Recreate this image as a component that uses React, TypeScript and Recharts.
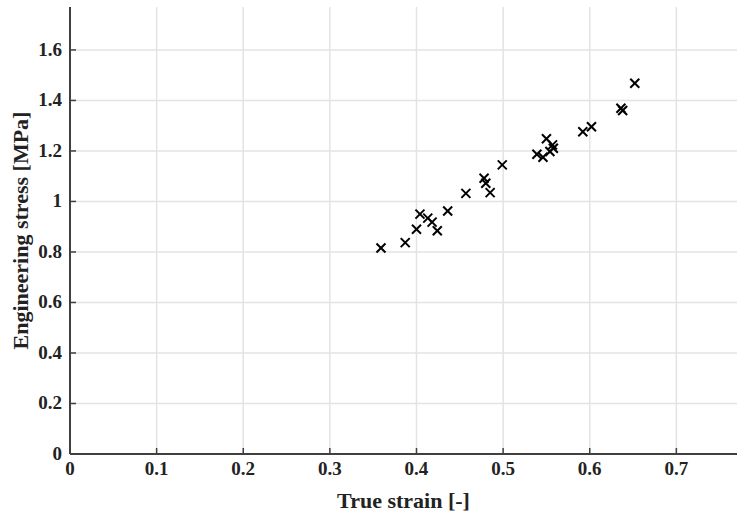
import { ScatterChart, Scatter, XAxis, YAxis, CartesianGrid, Label } from 'recharts';

// true strain [-] and engineering stress [MPa]
const strain = [
  0.359, 0.387, 0.400, 0.404, 0.413, 0.418, 0.424, 0.436, 0.457, 0.478, 0.480, 0.485,
  0.499, 0.539, 0.546, 0.550, 0.554, 0.557, 0.558, 0.592, 0.602, 0.636, 0.638, 0.652,
];
const stress = [
  0.816, 0.837, 0.890, 0.950, 0.934, 0.918, 0.884, 0.962, 1.032, 1.092, 1.072, 1.035,
  1.145, 1.187, 1.175, 1.248, 1.198, 1.224, 1.211, 1.276, 1.296, 1.369, 1.360, 1.468,
];

const xTicks = [0, 0.1, 0.2, 0.3, 0.4, 0.5, 0.6, 0.7];
const yTicks = [0, 0.2, 0.4, 0.6, 0.8, 1, 1.2, 1.4, 1.6];

const data = strain.map((s, i) => ({ strain: s, stress: stress[i] }));

const FONT = '"Liberation Serif", "Times New Roman", serif';
const AXIS = '#404040';

const Cross = (props: any) => {
  const { cx, cy } = props;
  const r = 4.5;
  return (
    <g stroke="#000" strokeWidth={2}>
      <line x1={cx - r} y1={cy - r} x2={cx + r} y2={cy + r} />
      <line x1={cx - r} y1={cy + r} x2={cx + r} y2={cy - r} />
    </g>
  );
};

const XTick = (props: any) => {
  const { x, y, payload } = props;
  return (
    <g>
      <line x1={x} y1={y - 12} x2={x} y2={y - 18} stroke={AXIS} strokeWidth={1.5} />
      <text x={x} y={y} dy={9} textAnchor="middle" fontFamily={FONT} fontWeight="bold" fontSize={19} fill="#222">
        {payload.value}
      </text>
    </g>
  );
};

const YTick = (props: any) => {
  const { x, y, payload } = props;
  return (
    <g>
      <line x1={x + 8} y1={y} x2={x + 14} y2={y} stroke={AXIS} strokeWidth={1.5} />
      <text x={x} y={y} dy={6} textAnchor="end" fontFamily={FONT} fontWeight="bold" fontSize={19} fill="#222">
        {payload.value}
      </text>
    </g>
  );
};

export default function App() {
  return (
    <div style={{ position: 'absolute', left: 0, top: 0, background: '#fff' }}>
      <ScatterChart width={737} height={514} margin={{ top: 7, right: 0, bottom: 0, left: 0 }}>
        <CartesianGrid stroke="#e3e3e3" strokeWidth={1.5} horizontalValues={yTicks} verticalValues={xTicks} />
        <XAxis
          type="number"
          dataKey="strain"
          domain={[0, 0.77]}
          ticks={xTicks}
          height={60}
          tickSize={0}
          tickMargin={12}
          tick={<XTick />}
          axisLine={{ stroke: AXIS, strokeWidth: 2 }}
          tickLine={false}
        >
          <Label value="True strain [-]" position="insideBottom" offset={6} style={{ fontFamily: FONT, fontWeight: 'bold', fontSize: 22, fill: '#222' }} />
        </XAxis>
        <YAxis
          type="number"
          dataKey="stress"
          domain={[0, 1.77]}
          ticks={yTicks}
          width={70}
          tickSize={0}
          tickMargin={8}
          tick={<YTick />}
          axisLine={{ stroke: AXIS, strokeWidth: 2 }}
          tickLine={false}
        >
          <Label value="Engineering stress [MPa]" angle={-90} position="insideLeft" offset={20} style={{ textAnchor: 'middle', fontFamily: FONT, fontWeight: 'bold', fontSize: 22, fill: '#222' }} />
        </YAxis>
        <Scatter data={data} shape={<Cross />} isAnimationActive={false} />
      </ScatterChart>
    </div>
  );
}
